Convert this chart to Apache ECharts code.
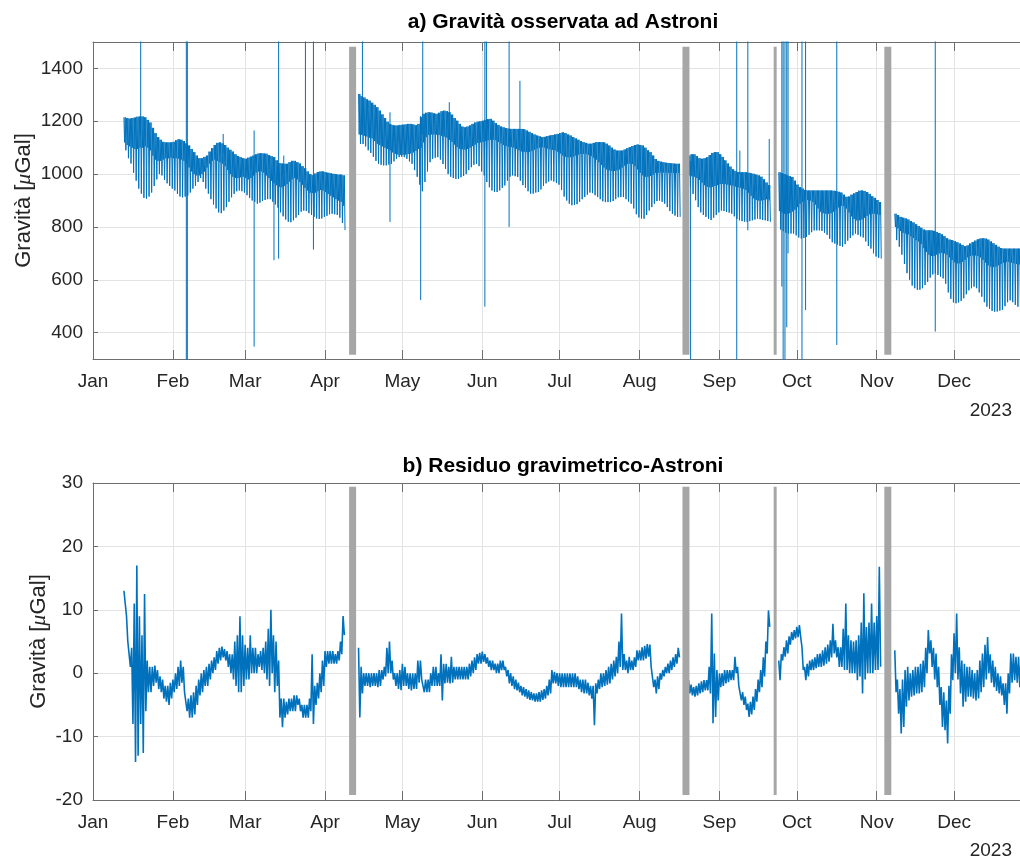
<!DOCTYPE html>
<html>
<head>
<meta charset="utf-8">
<title>Gravità Astroni 2023</title>
<script src="https://cdn.jsdelivr.net/npm/echarts@6/dist/echarts.min.js"></script>
<style>
  html, body { margin: 0; padding: 0; background: #fff; }
  #chart { width: 1020px; height: 859px; }
</style>
</head>
<body>
<div id="chart"></div>
<script>
// asse dei tempi in giorni dall'1 gennaio 2023
var monthDays = [0, 31, 59, 90, 120, 151, 181, 212, 243, 273, 304, 334];
var monthLabels = ['Jan', 'Feb', 'Mar', 'Apr', 'May', 'Jun', 'Jul', 'Aug', 'Sep', 'Oct', 'Nov', 'Dec'];
var obsTicks = [400, 600, 800, 1000, 1200, 1400];

// a) gravità osservata: per ogni giorno massimo, fondo della parte densa, minimo (µGal)
var obsStart = [12, 103, 231, 266, 311];
var obsHigh = [
  [1215,1212,1210,1212,1214,1217,1218,1218,1215,1205, 1195,1175,1155,1140,1130,1122,1120,1120,1120,1122,
   1128,1132,1130,1125,1116,1108,1095,1083,1070,1060, 1060,1065,1070,1085,1098,1110,1118,1120,1116,1110,
   1100,1092,1085,1075,1068,1064,1060,1058,1062,1066, 1070,1075,1078,1079,1078,1077,1072,1068,1064,1052,
   1042,1040,1039,1039,1045,1050,1050,1045,1040,1030, 1022,1010,1000,996,1002,1008,1010,1010,1007,1005,
   1003,1001,1000,998,998,995],
  [1303,1295,1290,1283,1278,1270,1262,1253,1240,1226, 1212,1198,1190,1186,1184,1184,1186,1187,1188,1190,
   1190,1188,1185,1190,1215,1228,1232,1234,1233,1230, 1228,1232,1238,1240,1238,1234,1225,1212,1202,1190,
   1180,1177,1180,1184,1190,1195,1198,1200,1202,1205, 1208,1209,1202,1193,1186,1180,1177,1174,1172,1171,
   1171,1171,1171,1171,1170,1165,1160,1155,1150,1146, 1143,1140,1141,1144,1146,1148,1150,1152,1155,1158,
   1155,1150,1146,1140,1135,1130,1125,1121,1118,1115, 1115,1118,1121,1121,1121,1120,1115,1108,1100,1093,
   1089,1089,1089,1093,1098,1102,1106,1110,1112,1110, 1108,1100,1090,1083,1070,1057,1050,1047,1045,1043,
   1042,1041,1040,1039,1039],
  [1070,1075,1075,1068,1060,1058,1060,1064,1072,1080, 1083,1083,1075,1065,1052,1040,1028,1018,1012,1008,
   1007,1007,1007,1005,1003,1001,998,995,990,980, 968,958],
  [1007,1004,1000,995,992,989,975,960,951,945, 940,938,938,938,938,938,938,938,938,938,
   938,937,936,933,930,922,914,915,922,927, 932,937,938,936,932,925,916,910,902,894],
  [850,845,838,835,832,828,822,817,810,803, 797,790,787,787,787,785,781,777,772,765,
   757,752,750,746,742,737,732,727,730,737, 743,748,753,756,757,756,752,745,738,732,
   725,720,718,718,718,718,718,718,718,718]
];
var obsMid = [
  [1120,1110,1105,1100,1095,1095,1100,1100,1105,1100, 1090,1070,1055,1050,1050,1055,1060,1060,1062,1060,
   1060,1058,1055,1050,1040,1025,1010,1000,995,995, 1000,1010,1025,1040,1050,1055,1050,1045,1040,1030,
   1015,1000,990,985,985,988,990,985,980,985, 995,1005,1010,1010,1005,995,985,975,965,958,
   952,950,955,962,972,980,985,980,970,960, 948,938,930,928,930,935,940,938,932,925,
   918,912,905,900,895,880],
  [1150,1148,1145,1142,1138,1135,1125,1115,1110,1105, 1100,1095,1090,1082,1076,1074,1073,1073,1074,1076,
   1078,1082,1088,1095,1100,1120,1140,1148,1150,1150, 1150,1148,1145,1142,1138,1130,1122,1112,1102,1096,
   1094,1093,1095,1100,1106,1112,1118,1120,1122,1125, 1128,1130,1130,1128,1122,1116,1110,1106,1104,1102,
   1100,1095,1090,1086,1084,1083,1084,1088,1093,1097, 1100,1102,1100,1097,1094,1092,1090,1085,1078,1070,
   1066,1064,1064,1066,1070,1074,1076,1077,1076,1073, 1068,1062,1055,1045,1035,1025,1018,1014,1012,1012,
   1014,1018,1025,1032,1038,1040,1038,1030,1018,1005, 995,990,990,993,998,1004,1005,1006,1006,1005,
   1005,1005,1004,1004,1004],
  [995,992,990,985,978,968,958,952,950,952, 955,958,962,963,962,960,958,956,953,950,
   948,945,940,930,918,908,902,900,900,902, 905,905],
  [860,855,850,850,852,858,865,875,888,895, 900,902,900,895,885,870,858,852,850,850,
   852,858,866,874,880,878,870,855,840,830, 825,825,828,835,842,848,850,850,848,845],
  [800,795,785,778,775,772,765,758,750,745, 735,720,705,695,690,690,695,700,702,700,
   695,685,675,666,662,662,668,675,685,690, 692,692,690,685,675,665,655,650,648,650,
   655,660,665,668,668,665,662,660,658,655]
];
var obsLow = [
  [1090,1060,1040,1005,975,945,926,910,907,915, 930,955,980,1000,995,978,965,955,945,938,
   925,915,912,915,919,930,945,955,970,985, 970,945,926,905,885,870,855,852,862,875,
   895,912,925,935,938,935,930,920,910,900, 895,888,892,898,902,905,905,895,885,873,
   855,840,828,820,818,825,835,845,858,862, 860,852,845,838,832,830,832,838,842,848,
   850,848,845,835,815,788],
  [1114,1114,1105,1090,1080,1065,1050,1039,1035,1033, 1033,1036,1039,1048,1058,1064,1066,1064,1058,1048,
   1039,1015,990,960,935,970,1010,1045,1058,1062, 1064,1055,1038,1020,1000,990,985,982,982,988,
   993,1000,1015,1026,1035,1039,1030,1010,995,970, 950,938,933,932,938,948,957,975,990,995,
   992,989,975,958,948,935,926,926,930,932, 942,955,965,972,976,972,966,960,940,915,
   900,888,882,883,886,895,905,913,922,930, 928,920,913,905,897,894,894,894,898,905,
   912,913,913,905,896,888,870,848,836,832, 831,845,862,875,888,898,900,895,888,875,
   860,850,843,838,838],
  [951,925,901,875,855,845,838,830,826,835, 845,855,862,860,857,854,850,840,830,825,
   822,820,819,822,825,828,831,829,826,825, 822,819],
  [790,784,778,775,775,775,768,760,756,758, 762,770,780,787,787,787,785,778,770,755,
   742,737,733,728,725,735,748,758,768,775, 770,764,760,745,728,718,700,688,683,680],
  [750,725,695,660,625,600,578,568,562,562, 568,580,592,608,620,624,618,612,605,585,
   552,528,514,511,514,520,530,545,560,568, 574,568,552,536,515,498,490,482,479,480,
   483,486,500,515,522,515,505,498,485,467]
];
// picchi isolati: [giorno, estremo alto, estremo basso]
var obsSpikes = [
  [18.5, 1600, 1150], [36.2, 1600, 200], [36.6, 1600, 200], [50.5, 1152, 1080],
  [62.5, 1165, 347], [70.2, 1050, 674], [72.0, 1600, 680], [74.0, 1070, 1000],
  [82.4, 1600, 1000], [85.5, 1600, 714], [104.5, 1600, 1150], [115.2, 1234, 819],
  [127.1, 1220, 523], [127.9, 1600, 1150], [138.2, 1272, 1150], [152.0, 1600, 498],
  [152.6, 1600, 1100], [161.4, 1600, 800], [165.6, 1353, 1100], [231.8, 1050, 200],
  [249.7, 1600, 200], [250.9, 1089, 1000], [254.0, 1600, 787], [262.3, 1133, 900],
  [267.2, 1600, 574], [267.7, 1600, 200], [268.4, 1600, 200], [269.1, 1600, 420],
  [269.6, 1600, 700], [275.0, 1600, 200], [276.4, 1600, 485], [288.5, 1600, 353],
  [326.7, 1600, 404]
];

// b) residuo gravimetrico: massimo e minimo giornaliero (µGal)
var resStart = [12, 103, 231, 266, 311];
var resHigh = [
  [13,9,5,4,11,17,9,6,12.5,2, 1,1,1.2,0.5,-0.5,-1,-2,-2,-1.5,-1,
   0,1,2,1,-3,-4,-3.5,-3,-2,-1, 0,0.5,1,1.5,2,2.5,3.5,4,4.2,3.8,
   3.5,3,3,5,6,9,6,4.5,4,6, 4,4,3,3.5,4,5,7,10,6,5,
   2,-4,-4,-4.5,-4,-4,-3.5,-3.5,-4,-5, -5,-5,-4,3,-2,-1.5,0,2,3.5,3.5,
   3.5,3.5,3,3.5,5,9],
  [4,1,0,0,0,0,0,0,0.5,0.5, 1,4,5,2,0,0,0.5,1.5,1,0,
   0,0,0,2,2,-1,-1,-1,0,1, 1,0,3,1.5,1.5,1,2.6,1,1,1,
   1,1,1,1.5,2,2.5,3,3.2,3.4,3, 2.5,2,2,1.5,1.5,2,2,1,0.5,0,
   -0.5,-1,-1.5,-2,-2.2,-2.5,-2.7,-3,-3.2,-3.2, -3,-2.7,-2.5,-2,-1,0.5,0.2,0,0,0,
   0,0,0,0,0,-0.5,-1,-1,-1,-1.5, -2,-2,-1.6,-1,0,0,0.5,1,1.5,2,
   2.6,5,9.4,3,2,2.6,2,2.5,3.6,3.6, 4.1,4.3,4.6,4.5,1,-1,-0.5,0,0.5,1,
   1.5,2,2.5,3,4],
  [-1.1,-1.8,-2.2,-2,-1.6,-1.3,-1.1,-1.1,1,9.4, 3.1,0.5,0,0,0.5,0.5,0.5,0.5,2.6,1,
   -2.2,-3,-3.7,-4.8,-4.5,-3.7,-2.5,-1,0.5,2.5, 5,9.9],
  [2,3,4.1,5.2,5.8,6.5,6.8,7.3,7.6,4.1, 1,1.5,2,2.2,2.5,3,3.1,3.6,4.1,4.5,
   5.2,7.8,5.2,4.1,4.1,7,11,6,5.2,5, 5.2,6,8,12.6,7.3,8,11,8,9,16.8],
  [3.6,-1,-2.5,-1,0.5,1,0,0.5,1,1, 1.5,2,4,6.8,5.2,4,3.1,1,-2.2,-3,
   -4.3,-2,3,6.3,9.4,4.1,2,1.5,1,1, 0.5,0,0.5,2,3.1,4.5,5.7,3,2,1,
   0,-0.5,-1.6,-1.6,0,3.1,3.1,2.6,2.6,2.6]
];
var resLow = [
  [11,5,1,-8,-14,-13,-8,-12.6,-6,-3, -3,-2,-1.5,-2.5,-3,-4,-4.5,-5,-4,-3,
   -2.5,-2,-1.5,-3,-6,-7,-7,-6.5,-5,-3.5, -3,-2,-2,-1,0,0.5,1.5,2,2.5,2,
   1,0,-1,-2,-3,-3,-2,-1,-1,0, 0,0,1,0.5,0,-1,-2,0,-3,-2,
   -7,-8.5,-7,-6.5,-6,-6,-6,-5,-6,-7, -7,-7,-6,-8,-5,-4,-3,-2,1,1.5,
   1.5,1.5,1.5,2,3,6],
  [-7,-3.2,-2,-2,-2.2,-2,-2,-2.2,-2,-1, -0.5,0,0,-1,-2,-2.5,-2.7,-2,-2,-2.5,
   -2.7,-2.5,-2.5,-1.5,-1,-3,-3,-3,-2,-2, -2,-2,-4.3,-1.6,-1.5,-1.6,-1.5,-1,-1,-1,
   -1,-1,-1,-0.5,0,0.5,1.5,1.5,1.8,1.5, 1,0.5,0.5,0,0,0.5,0.5,-0.5,-1.6,-2,
   -2.5,-2.7,-3,-3.5,-3.7,-4,-4.2,-4.3,-4.5,-4.5, -4.5,-4.2,-4,-3.5,-3.2,-1.6,-1.6,-2,-2.2,-2.2,
   -2.2,-2.2,-2.2,-2.2,-2.2,-2.5,-3,-3.2,-3.2,-3.5, -4,-8.2,-3.2,-2.5,-2.2,-2,-1.8,-1.6,-1,-0.5,
   0,1,0.5,0.5,0,0.5,0.5,1,2,2, 2,2.3,2.6,1,-2.2,-3.2,-2.5,-1,-0.5,0,
   0,0.5,1,1.5,2.5],
  [-3.2,-3.5,-3.7,-3.5,-3.2,-3,-2.7,-2.7,-3.2,-7.9, -6.9,-4.3,-2.2,-2,-1.6,-1.4,-1.1,-1.1,0,-2,
   -4.3,-5,-5.8,-6.9,-6.5,-5.8,-4.5,-3,-2.2,-0.5, 3.1,7.3],
  [-1.1,2,2.6,3.1,4.5,5.2,5.5,5.7,5.7,0.5, -1.1,-0.5,0.5,0.5,0.8,1,1,1.2,1.5,1.8,
   2.5,3.1,2.5,1,1,0.5,0.5,0,0,0, -1.1,-0.5,-3.2,-1,0,0,0,0.5,0.5,1],
  [-3,-6.4,-9.5,-8.5,-5.3,-4.3,-3.7,-3.5,-3.2,-3.2, -3,-2.2,0,3.1,1,-1,-2.2,-5,-8.5,-9,
   -11.1,-6.4,-1.1,0,-1,-3.2,-5.3,-4.5,-3.7,-3.7, -4,-4.3,-4,-3,-2.2,-1,0,-1.5,-2.2,-2.8,
   -3.2,-3.5,-5,-6.4,-3.2,-1.5,-1.1,-1.5,-2.2,-2.2]
];

// interruzioni dello strumento (barre grigie)
var gapDays = [100.7, 230.0, 264.6, 308.3];
var gapWidths = [7, 7, 3, 7];
var gapObsRange = [316, 1482];
var gapResRange = [-19.2, 29.4];

var font = 'Liberation Sans';
var blue = '#0072bd';
var axisColor = '#6e6e6e';
var labelColor = '#262626';
var gridColor = '#e3e3e3';

function tideLine(start, hi, mid, lo) {
  var pts = [];
  for (var s = 0; s < start.length; s++) {
    for (var i = 0; i < hi[s].length; i++) {
      var d = start[s] + i;
      pts.push([d, hi[s][i]], [d + 0.25, mid[s][i]], [d + 0.5, hi[s][i]], [d + 0.75, lo[s][i]]);
    }
    pts.push([start[s] + hi[s].length, '-']);
  }
  return pts;
}

function noiseLine(start, hi, lo) {
  var pts = [];
  for (var s = 0; s < start.length; s++) {
    for (var i = 0; i < hi[s].length; i++) {
      var d = start[s] + i;
      pts.push([d, hi[s][i]], [d + 0.5, lo[s][i]]);
    }
    pts.push([start[s] + hi[s].length, '-']);
  }
  return pts;
}

function spikeLine(list) {
  var pts = [];
  list.forEach(function (s) {
    pts.push([s[0], s[1]], [s[0], s[2]], [s[0], '-']);
  });
  return pts;
}

function monthAxis(grid) {
  return {
    type: 'value', gridIndex: grid, min: 0, max: 365,
    axisLine: { show: true, onZero: false, lineStyle: { color: axisColor, width: 1 } },
    axisTick: { show: true, inside: true, length: 9, customValues: monthDays, lineStyle: { color: axisColor } },
    axisLabel: {
      customValues: monthDays, margin: 13, color: labelColor, fontSize: 19, fontFamily: font,
      formatter: function (v) { return monthLabels[monthDays.indexOf(v)]; }
    },
    splitLine: { show: true, lineStyle: { color: gridColor, width: 1 } }
  };
}

function boxTop(grid) {
  return {
    type: 'value', gridIndex: grid, position: 'top', min: 0, max: 365,
    axisLine: { show: true, onZero: false, lineStyle: { color: axisColor, width: 1 } },
    axisTick: { show: true, inside: true, length: 9, customValues: monthDays, lineStyle: { color: axisColor } },
    axisLabel: { show: false },
    splitLine: { show: false }
  };
}

function gravAxis(grid, extra) {
  var ax = {
    type: 'value', gridIndex: grid,
    name: 'Gravità [{mu|μ}Gal]', nameLocation: 'middle', nameMoveOverlap: false,
    nameTextStyle: {
      fontSize: 22, fontFamily: font, color: labelColor,
      rich: { mu: { fontSize: 22, fontFamily: 'Liberation Serif', fontStyle: 'italic', color: labelColor } }
    },
    axisLine: { show: true, onZero: false, lineStyle: { color: axisColor, width: 1 } },
    axisTick: { show: true, inside: true, length: 5, lineStyle: { color: axisColor } },
    axisLabel: {
      margin: 10, color: labelColor, fontSize: 19, fontFamily: font,
      formatter: function (v) { return String(v); }
    },
    splitLine: { show: true, lineStyle: { color: gridColor, width: 1 } }
  };
  return echarts.util.merge(ax, extra, true);
}

var series = [
  {
    type: 'line', xAxisIndex: 0, yAxisIndex: 0, data: tideLine(obsStart, obsHigh, obsMid, obsLow),
    showSymbol: false, symbol: 'none', sampling: null, silent: true, z: 2,
    lineStyle: { color: blue, width: 1 }
  },
  {
    type: 'line', xAxisIndex: 0, yAxisIndex: 0, data: spikeLine(obsSpikes),
    showSymbol: false, symbol: 'none', silent: true, z: 2,
    lineStyle: { color: blue, width: 1 }
  },
  {
    type: 'line', xAxisIndex: 2, yAxisIndex: 1, data: noiseLine(resStart, resHigh, resLow),
    showSymbol: false, symbol: 'none', silent: true, z: 2,
    lineStyle: { color: blue, width: 1.6 }
  }
];

gapDays.forEach(function (d, i) {
  [[0, 0, gapObsRange], [2, 1, gapResRange]].forEach(function (g) {
    series.push({
      type: 'line', xAxisIndex: g[0], yAxisIndex: g[1],
      data: [[d, g[2][0]], [d, g[2][1]]],
      showSymbol: false, symbol: 'none', silent: true, z: 3,
      lineStyle: { color: '#a6a6a6', width: gapWidths[i], cap: 'butt' }
    });
  });
});

var chart = echarts.init(document.getElementById('chart'), null, { renderer: 'canvas' });
chart.setOption({
  animation: false,
  backgroundColor: '#ffffff',
  title: [
    {
      text: 'a) Gravità osservata ad Astroni', left: 563, top: 12, padding: 0,
      textAlign: 'center', textVerticalAlign: 'top',
      textStyle: { fontSize: 21, fontWeight: 'bold', fontFamily: font, color: '#000' }
    },
    {
      text: 'b) Residuo gravimetrico-Astroni', left: 563, top: 456, padding: 0,
      textAlign: 'center', textVerticalAlign: 'top',
      textStyle: { fontSize: 21, fontWeight: 'bold', fontFamily: font, color: '#000' }
    }
  ],
  grid: [
    { left: 93, top: 42, width: 941, height: 317, containLabel: false, outerBoundsMode: 'none' },
    { left: 93, top: 483, width: 941, height: 317, containLabel: false, outerBoundsMode: 'none' }
  ],
  xAxis: [monthAxis(0), boxTop(0), monthAxis(1), boxTop(1)],
  yAxis: [
    gravAxis(0, {
      min: 300, max: 1500, nameGap: 58,
      axisTick: { customValues: obsTicks }, axisLabel: { customValues: obsTicks }
    }),
    gravAxis(1, { min: -20, max: 30, interval: 10, nameGap: 43 })
  ],
  graphic: [
    { type: 'text', x: 1012, y: 411, style: { text: '2023', fill: labelColor, fontSize: 19, fontFamily: font, align: 'right', verticalAlign: 'middle' } },
    { type: 'text', x: 1012, y: 851, style: { text: '2023', fill: labelColor, fontSize: 19, fontFamily: font, align: 'right', verticalAlign: 'middle' } }
  ],
  series: series
});
</script>
</body>
</html>
